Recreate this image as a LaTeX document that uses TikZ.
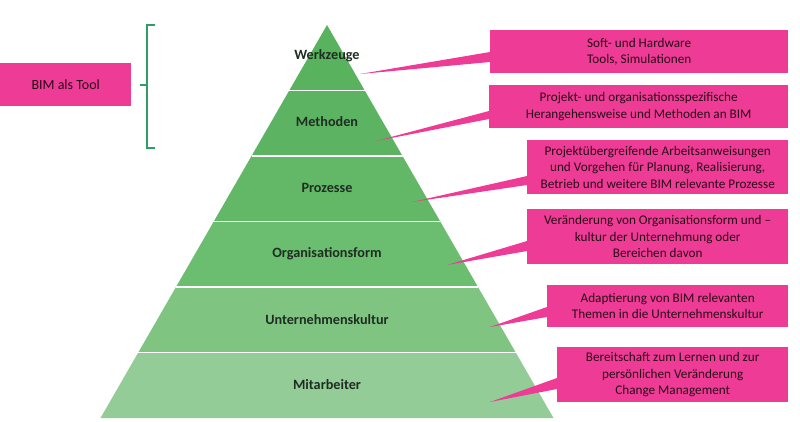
\documentclass[tikz,border=0pt]{standalone}
\usepackage{fontspec}
\setmainfont{Carlito}
\usetikzlibrary{calc}
\definecolor{pk}{HTML}{EE3C96}
\definecolor{boxtext}{HTML}{2A0A18}
\definecolor{lbltext}{HTML}{1F2D22}
\definecolor{brk}{HTML}{2E9E62}
\definecolor{ca}{HTML}{58B25E}
\definecolor{cb}{HTML}{5CB462}
\definecolor{cc}{HTML}{62B867}
\definecolor{cd}{HTML}{6BBD6F}
\definecolor{ce}{HTML}{7FC581}
\definecolor{cf}{HTML}{93CC96}
\begin{document}
\begin{tikzpicture}[x=1pt,y=-1pt,
  box/.style={fill=pk, text=boxtext, align=center, inner sep=0pt, anchor=north west,
    font=\fontsize{13.2}{16.3}\selectfont},
  lbl/.style={text=lbltext, font=\fontsize{14.2}{16}\selectfont\bfseries},
  wedge/.style={fill=pk}]
\useasboundingbox (0,0) rectangle (800,422);
\coordinate (apex) at (327,25);
\coordinate (bl) at (100.5,418);
\coordinate (br) at (553.5,418);
\foreach \i/\c in {0/ca,1/cb,2/cc,3/cd,4/ce,5/cf}{
  \fill[\c] ($(apex)!{\i/6}!(bl)$) -- ($(apex)!{\i/6}!(br)$) -- ($(apex)!{(\i+1)/6}!(br)$) -- ($(apex)!{(\i+1)/6}!(bl)$) -- cycle;
}
\foreach \i in {1,...,5}{
  \draw[white, line width=1.6] ($(apex)!{\i/6}!(bl)$) -- ($(apex)!{\i/6}!(br)$);
}
\node[lbl] (l1) at (327,56) {Werkzeuge};
\node[lbl] (l2) at (327,122) {Methoden};
\node[lbl] (l3) at (327,188) {Prozesse};
\node[lbl] (l4) at (327,254) {Organisationsform};
\node[lbl] (l5) at (327,320) {Unternehmenskultur};
\node[lbl] (l6) at (327,385) {Mitarbeiter};

\node[box, minimum width=131, minimum height=43, font=\fontsize{14}{16}\selectfont] (bt) at (0,63) {BIM als Tool};
\node[box, minimum width=298, minimum height=43] (b1) at (490,30) {Soft- und Hardware\\Tools, Simulationen};
\node[box, minimum width=299, minimum height=43] (b2) at (489,85) {Projekt- und organisationsspezifische\\Herangehensweise und Methoden an BIM};
\node[box, minimum width=261, minimum height=54] (b3) at (527,140) {Projektübergreifende Arbeitsanweisungen\\und Vorgehen für Planung, Realisierung,\\Betrieb und weitere BIM relevante Prozesse};
\node[box, minimum width=261, minimum height=55] (b4) at (527,209) {Veränderung von Organisationsform und –\\kultur der Unternehmung oder\\Bereichen davon};
\node[box, minimum width=241, minimum height=42] (b5) at (547,285) {Adaptierung von BIM relevanten\\Themen in die Unternehmenskultur};
\node[box, minimum width=231, minimum height=55] (b6) at (557,347) {Bereitschaft zum Lernen und zur\\persönlichen Veränderung\\Change Management};

\coordinate (t1) at (360,74);
\coordinate (t2) at (376,141);
\coordinate (t3) at (412,202);
\coordinate (t4) at (447,265);
\coordinate (t5) at (490,327);
\coordinate (t6) at (490,402);
\fill[wedge] (t1) -- ([yshift=-22pt]b1.north west) -- ([yshift=-32pt]b1.north west) -- cycle;
\fill[wedge] (t2) -- ([yshift=-26pt]b2.north west) -- ([yshift=-34pt]b2.north west) -- cycle;
\fill[wedge] (t3) -- ([yshift=-36pt]b3.north west) -- ([yshift=-45pt]b3.north west) -- cycle;
\fill[wedge] (t4) -- ([yshift=-32pt]b4.north west) -- ([yshift=-42pt]b4.north west) -- cycle;
\fill[wedge] (t5) -- ([yshift=-22pt]b5.north west) -- ([yshift=-32pt]b5.north west) -- cycle;
\fill[wedge] (t6) -- ([yshift=-31pt]b6.north west) -- ([yshift=-42pt]b6.north west) -- cycle;

\coordinate (bka) at (155,25);
\coordinate (bkb) at (155,148);
\coordinate (bkm) at (140,85);
\draw[brk, line width=2] (bka) -- (147,25) -- (147,148) -- (bkb);
\draw[brk, line width=2] (147,85) -- (bkm);
\end{tikzpicture}
\end{document}
